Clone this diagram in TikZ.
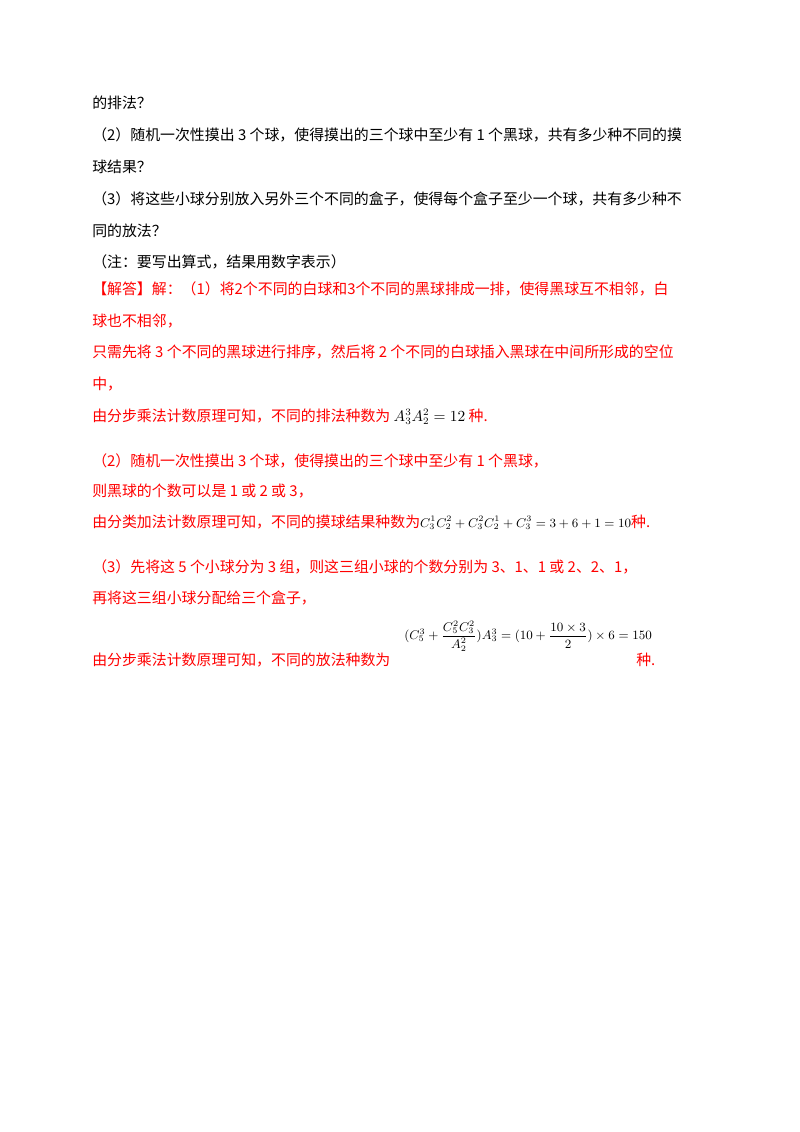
\documentclass[tikz,border=0pt]{standalone}
\usepackage{fontspec}
\setmainfont{Liberation Serif}
\newfontfamily\cjk{Noto Sans CJK SC}
\usepackage{amsmath}
\usetikzlibrary{positioning}

\tikzset{
  txt/.style={anchor=base west, inner sep=0pt, font=\cjk\fontsize{10.6pt}{12pt}\selectfont},
  ans/.style={txt, text=red}
}

\begin{document}
\begin{tikzpicture}[x=0.025cm,y=-0.025cm]
  \useasboundingbox (0,0) rectangle (800,1132);

  % question part
  \node[txt] (q0) at (92,108) {的排法？};
  \node[txt] (q1) at (92,140) {（2）随机一次性摸出 3 个球，使得摸出的三个球中至少有 1 个黑球，共有多少种不同的摸};
  \node[txt] (q2) at (92,172) {球结果？};
  \node[txt] (q3) at (92,204) {（3）将这些小球分别放入另外三个不同的盒子，使得每个盒子至少一个球，共有多少种不};
  \node[txt] (q4) at (92,236) {同的放法？};
  \node[txt] (q5) at (92,267) {（注：要写出算式，结果用数字表示）};

  % answer part
  \node[ans] (a1) at (92,294) {【解答】解：（1）将2个不同的白球和3个不同的黑球排成一排，使得黑球互不相邻，白};
  \node[ans] (a2) at (92,326) {球也不相邻，};
  \node[ans] (a3) at (92,357) {只需先将 3 个不同的黑球进行排序，然后将 2 个不同的白球插入黑球在中间所形成的空位};
  \node[ans] (a4) at (92,389) {中，};
  \node[ans] (a5) at (92,421) {由分步乘法计数原理可知，不同的排法种数为 {\color{black}$A_3^3A_2^2=12$} 种.};

  \node[ans] (b1) at (92,466) {（2）随机一次性摸出 3 个球，使得摸出的三个球中至少有 1 个黑球，};
  \node[ans] (b2) at (92,496) {则黑球的个数可以是 1 或 2 或 3，};
  \node[ans] (b3) at (92,527) {由分类加法计数原理可知，不同的摸球结果种数为{\color{black}\fontsize{9pt}{10pt}\selectfont$C_3^1C_2^2+C_3^2C_2^1+C_3^3=3+6+1=10$}种.};

  \node[ans] (c1) at (92,572) {（3）先将这 5 个小球分为 3 组，则这三组小球的个数分别为 3、1、1 或 2、2、1，};
  \node[ans] (c2) at (92,603) {再将这三组小球分配给三个盒子，};
  \node[ans] (c3) at (92,665) {由分步乘法计数原理可知，不同的放法种数为};
  \node[txt, anchor=west, font=\fontsize{9pt}{10pt}\selectfont] (f3) at (404,636)
    {$(C_5^3+\dfrac{C_5^2C_3^2}{A_2^2})A_3^3=(10+\dfrac{10\times3}{2})\times6=150$};
  \node[ans] (c4) at (636,665) {种.};
\end{tikzpicture}
\end{document}
